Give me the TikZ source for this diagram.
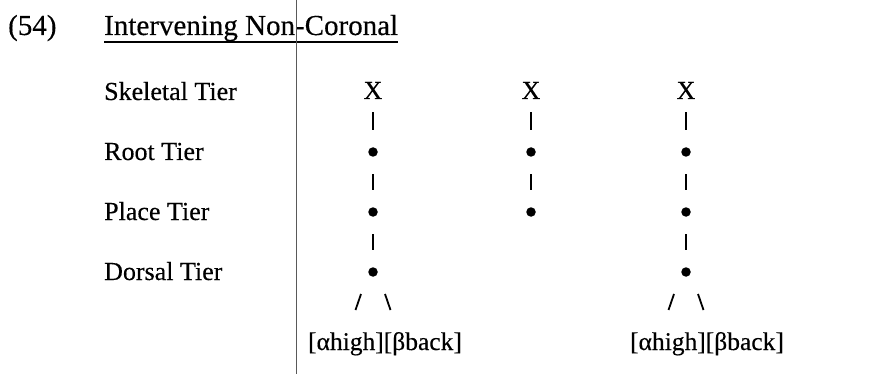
\documentclass[tikz,border=0pt]{standalone}
\usepackage{fontspec}
\setmainfont{Liberation Serif}[FakeBold=0.35]
\begin{document}
\begin{tikzpicture}[x=1pt,y=-1pt,
  lab/.style={anchor=base west, inner sep=0pt, font=\fontsize{26}{30}\selectfont},
  ttl/.style={anchor=base west, inner sep=0pt, font=\fontsize{29}{33}\selectfont},
  seg/.style={anchor=base, inner sep=0pt, font=\fontsize{26}{30}\selectfont},
  feat/.style={anchor=base, inner sep=0pt, font=\fontsize{25.5}{30}\selectfont},
  dotnode/.style={circle, fill=black, inner sep=0pt, minimum size=9.5pt},
  bar/.style={line width=1.8pt, shorten <=22pt, shorten >=22pt},
  slash/.style={line width=1.8pt},
  divider/.style={line width=0.8pt, black!65}
]
\useasboundingbox (0,0) rectangle (874,374);

% title
\node[ttl] (num) at (8,35) {(54)};
\node[ttl] (title) at (104,35) {Intervening Non-Coronal};
\draw[line width=1.4pt] ([yshift=-7pt]title.base west) -- ([yshift=-7pt]title.base east);

% divider
\coordinate (divtop) at (296,0);
\coordinate (divbot) at (296,374);
\draw[divider] (divtop) -- (divbot);

% tier labels
\node[lab] (skel) at (104,100) {Skeletal Tier};
\node[lab] (root) at (104,160) {Root Tier};
\node[lab] (place) at (104,220) {Place Tier};
\node[lab] (dors) at (104,280) {Dorsal Tier};

% column 1
\node[seg] (x1) at (373,99) {X};
\node[dotnode] (r1) at (373,152) {};
\node[dotnode] (p1) at (373,212) {};
\node[dotnode] (d1) at (373,272) {};
\draw[bar] (x1.center) -- (r1.center);
\draw[bar] (r1.center) -- (p1.center);
\draw[bar] (p1.center) -- (d1.center);
\path (d1.center) ++(-12,22) coordinate (s1a) ++(-5.5,16) coordinate (s1b);
\path (d1.center) ++(12,22) coordinate (s1c) ++(5.5,16) coordinate (s1d);
\draw[slash] (s1a) -- (s1b);
\draw[slash] (s1c) -- (s1d);
\node[feat] (f1) at (385,350) {[αhigh][βback]};

% column 2
\node[seg] (x2) at (531,99) {X};
\node[dotnode] (r2) at (531,152) {};
\node[dotnode] (p2) at (531,212) {};
\draw[bar] (x2.center) -- (r2.center);
\draw[bar] (r2.center) -- (p2.center);

% column 3
\node[seg] (x3) at (686,99) {X};
\node[dotnode] (r3) at (686,152) {};
\node[dotnode] (p3) at (686,212) {};
\node[dotnode] (d3) at (686,272) {};
\draw[bar] (x3.center) -- (r3.center);
\draw[bar] (r3.center) -- (p3.center);
\draw[bar] (p3.center) -- (d3.center);
\path (d3.center) ++(-12,22) coordinate (s3a) ++(-5.5,16) coordinate (s3b);
\path (d3.center) ++(12,22) coordinate (s3c) ++(5.5,16) coordinate (s3d);
\draw[slash] (s3a) -- (s3b);
\draw[slash] (s3c) -- (s3d);
\node[feat] (f3) at (707,350) {[αhigh][βback]};
\end{tikzpicture}
\end{document}
